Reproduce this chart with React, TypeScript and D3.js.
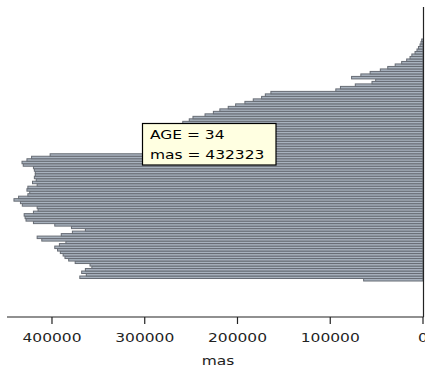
import React from "react";
import * as d3 from "d3";

// Male population ("mas") by single year of AGE, bottom bar = first age
const mas: number[] = [
  64000, 370000, 363000, 368000, 364000, 357000, 359000, 375000, 382000, 386000,
  388000, 391000, 394000, 397000, 392000, 385000, 411000, 416000, 390000, 378000,
  364000, 379000, 397000, 420000, 428000, 429000, 430000, 420000, 415000, 416000,
  432000, 434000, 441000, 436000, 426000, 424000, 427000, 426000, 416000, 421000,
  417000, 419000, 418000, 418000, 419000, 420000, 431000, 432323, 427000, 422000,
  402000, 294000, 291000, 288000, 285000, 282000, 279000, 276000, 273000, 270000,
  267000, 264000, 261000, 259000, 252000, 248000, 235000, 226000, 219000, 210000,
  202000, 192000, 183000, 174000, 170000, 164000, 94000, 89000, 73000, 55000,
  51000, 77000, 67000, 57000, 46000, 38000, 30000, 23000, 17600, 14000,
  12000, 8600, 6500, 4900, 3200, 2200, 1400,
];
const ages: number[] = mas.map((_, i) => i);
const xTicks: number[] = [0, 100000, 200000, 300000, 400000];
const xLabel = "mas";
const tipAge = 34;
const tipValue = 432323;

const W = 425;
const H = 377;
const FONT = "'DejaVu Sans', Verdana, sans-serif";

export default function App() {
  const x = d3.scaleLinear().domain([0, 448500]).range([423, 7]);
  const y = d3
    .scaleBand<number>()
    .domain(ages)
    .range([281, 39])
    .padding(0);
  const bw = y.bandwidth();
  const axisY = 317;

  return (
    <svg
      width={W}
      height={H}
      style={{ position: "absolute", left: 0, top: 0, background: "#fff" }}
    >
      <g>
        {ages.map((a, i) => (
          <rect
            key={a}
            x={x(mas[i])}
            y={y(a)!}
            width={x(0) - x(mas[i])}
            height={bw}
            fill="#a8b2be"
            stroke="#676c74"
            strokeWidth={1}
          />
        ))}
      </g>
      {/* axes */}
      <line x1={7} x2={423.5} y1={axisY} y2={axisY} stroke="#222" strokeWidth={1.2} />
      <line x1={423.5} x2={423.5} y1={7} y2={axisY} stroke="#222" strokeWidth={1.2} />
      {xTicks.map((t) => (
        <g key={t}>
          <line x1={x(t)} x2={x(t)} y1={axisY} y2={axisY + 7} stroke="#222" strokeWidth={1.2} />
          <text
            transform={`translate(${x(t)},${341.5}) scale(1.19,1)`}
            textAnchor="middle"
            fontFamily={FONT}
            fontSize={13}
            fill="#222"
          >
            {t}
          </text>
        </g>
      ))}
      <text
        transform={`translate(218,${365}) scale(1.19,1)`}
        textAnchor="middle"
        fontFamily={FONT}
        fontSize={13}
        fill="#222"
      >
        {xLabel}
      </text>
      {/* tooltip */}
      <g>
        <rect x={142.5} y={123.5} width={133.5} height={41.5} fill="#ffffe1" stroke="#000" strokeWidth={1.2} />
        <text transform="translate(150,138.5) scale(1.29,1)" fontFamily={FONT} fontSize={12} fill="#000">
          {`AGE = ${tipAge}`}
        </text>
        <text transform="translate(150,159) scale(1.29,1)" fontFamily={FONT} fontSize={12} fill="#000">
          {`mas = ${tipValue}`}
        </text>
      </g>
    </svg>
  );
}
